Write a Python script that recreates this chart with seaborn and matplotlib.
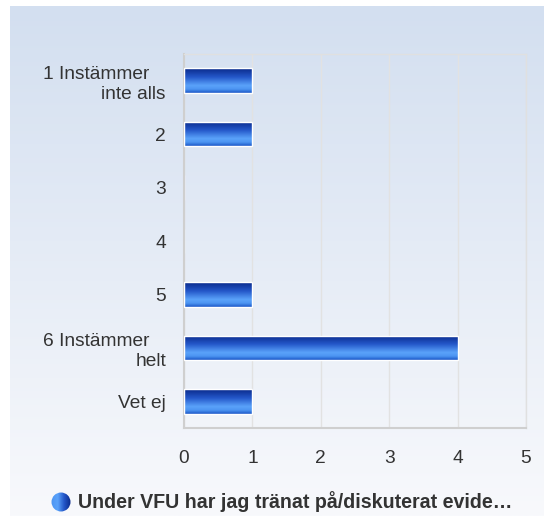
import numpy as np
import pandas as pd
import matplotlib
matplotlib.use("Agg")
import matplotlib.pyplot as plt
import seaborn as sns
from matplotlib.colors import LinearSegmentedColormap

categories = ["1 Instämmer   \ninte alls", "2", "3", "4", "5", "6 Instämmer   \nhelt", "Vet ej"]
counts = [1, 1, 0, 0, 1, 4, 1]
series_name = "Under VFU har jag tränat på/diskuterat evide…"

sns.set_theme(style="white")
plt.rcParams["font.family"] = ["Liberation Sans", "DejaVu Sans"]

df = pd.DataFrame({"category": categories, "count": counts})

fig = plt.figure(figsize=(5.44, 5.16), dpi=100)
fig.patch.set_facecolor("white")

# background panel with vertical gradient
bg = fig.add_axes([10 / 544, 0, 534 / 544, 1 - 6 / 516], zorder=-10)
bg_cmap = LinearSegmentedColormap.from_list("bg", ["#f8f9fc", "#d3dff0"])
bg.imshow(np.linspace(0, 1, 256).reshape(-1, 1), aspect="auto", cmap=bg_cmap,
          origin="lower", extent=[0, 1, 0, 1])
bg.set_axis_off()

ax = fig.add_axes([184 / 544, 1 - 428 / 516, 342 / 544, 374 / 516])
ax.patch.set_alpha(0)

sns.barplot(data=df, y="category", x="count", orient="h", ax=ax,
            color="#2f6bd8", width=0.46)

bar_cmap = LinearSegmentedColormap.from_list(
    "bar", [(0, "#0a2a8a"), (0.35, "#2356c8"), (0.7, "#5aa2fa"),
            (0.85, "#4d95f2"), (1, "#1b57c8")])
grad = np.linspace(0, 1, 64).reshape(-1, 1)
for p in ax.patches:
    w = p.get_width()
    if w <= 0:
        continue
    x0, y0, h = p.get_x(), p.get_y(), p.get_height()
    p.set_facecolor("none")
    p.set_edgecolor("white")
    p.set_linewidth(1.0)
    im = ax.imshow(grad, aspect="auto", cmap=bar_cmap,
                   extent=[x0, x0 + w, y0 + h, y0], origin="upper", zorder=2)
    im.set_clip_path(p)
    p.set_zorder(3)

ax.set_xlim(0, 5)
ax.set_ylim(6.5, -0.5)
ax.set_xticks(range(6))
ax.xaxis.grid(True, color="#e2e2e2", linewidth=1)
ax.set_axisbelow(True)
ax.set_xlabel("")
ax.set_ylabel("")
ax.tick_params(axis="both", length=0, labelsize=13.8, labelcolor="#333333")
ax.tick_params(axis="x", pad=16)
ax.tick_params(axis="y", pad=13)
for lab in ax.get_yticklabels():
    lab.set_horizontalalignment("right")
    lab.set_multialignment("right")
    lab.set_linespacing(1.25)
for side in ["left", "bottom"]:
    ax.spines[side].set_color("#cfcfcf")
    ax.spines[side].set_linewidth(1.5)
for side in ["top", "right"]:
    ax.spines[side].set_color("#e0e0e0")
    ax.spines[side].set_linewidth(1)

# legend
fig.text(78 / 544, 1 - 502 / 516, series_name, fontsize=14.1, fontweight="bold",
         color="#333333", va="center", ha="left")
leg = fig.add_axes([51 / 544, 1 - 512 / 516, 20 / 544, 20 / 516])
leg.set_axis_off()
leg.set_xlim(-1, 1)
leg.set_ylim(-1, 1)
xx, yy = np.meshgrid(np.linspace(-1, 1, 64), np.linspace(-1, 1, 64))
lcmap = LinearSegmentedColormap.from_list("leg", ["#4d95f2", "#5aa2fa", "#2356c8", "#0a2a8a"])
img = leg.imshow(xx, extent=[-1, 1, -1, 1], cmap=lcmap)
circ = plt.Circle((0, 0), 0.95, transform=leg.transData)
img.set_clip_path(circ)

fig.savefig("out.png", dpi=100)
